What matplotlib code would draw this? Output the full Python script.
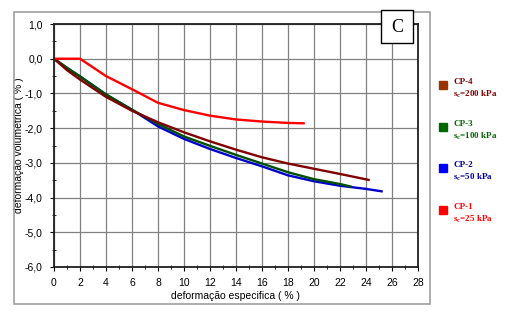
import matplotlib.pyplot as plt
from matplotlib.patches import Rectangle
from matplotlib.ticker import MultipleLocator, FuncFormatter

# curvas
cp1_x = [0, 2, 4, 6, 8, 10, 12, 14, 16, 18, 19.2]
cp1_y = [0, 0, -0.5, -0.88, -1.27, -1.48, -1.64, -1.75, -1.81, -1.85, -1.86]

cp2_x = [0, 1, 2, 4, 6, 8, 10, 12, 14, 16, 18, 20, 22, 24, 25.2]
cp2_y = [0, -0.27, -0.51, -1.03, -1.47, -1.95, -2.31, -2.6, -2.86, -3.1, -3.36, -3.53, -3.66, -3.75, -3.82]

cp3_x = [0, 1, 2, 4, 6, 8, 10, 12, 14, 16, 18, 20, 22, 22.8]
cp3_y = [0, -0.26, -0.51, -1.03, -1.47, -1.88, -2.24, -2.51, -2.77, -3.02, -3.27, -3.47, -3.61, -3.68]

cp4_x = [0, 1, 2, 4, 6, 8, 10, 12, 14, 16, 18, 20, 22, 24.2]
cp4_y = [0, -0.33, -0.6, -1.1, -1.5, -1.83, -2.12, -2.38, -2.62, -2.84, -3.02, -3.17, -3.32, -3.49]

legend_names = ['CP-4', 'CP-3', 'CP-2', 'CP-1']
legend_sc = ['200', '100', '50', '25']
legend_box = ['#993300', '#006600', '#0000FF', '#FF0000']
legend_txt = ['#800000', '#006600', '#000099', '#FF0000']

plt.rcParams['font.family'] = ['Liberation Sans', 'DejaVu Sans']

fig = plt.figure(figsize=(5.06, 3.27), dpi=100)

# moldura externa do grafico
fig.patches.append(Rectangle((14 / 506, 1 - 304 / 327), 416 / 506, 292 / 327,
                             transform=fig.transFigure, fill=False,
                             edgecolor='#a0a0a0', linewidth=1.2))

ax = fig.add_axes([54 / 506, 1 - 267 / 327, 364 / 506, 243 / 327])

ax.plot(cp2_x, cp2_y, color='#0000CC', linewidth=1.7)
ax.plot(cp3_x, cp3_y, color='#005000', linewidth=1.7)
ax.plot(cp4_x, cp4_y, color='#800000', linewidth=1.7)
ax.plot(cp1_x, cp1_y, color='#FF0000', linewidth=1.7)

ax.set_xlim(0, 28)
ax.set_ylim(-6, 1)
ax.xaxis.set_major_locator(MultipleLocator(2))
ax.xaxis.set_minor_locator(MultipleLocator(1))
ax.yaxis.set_major_locator(MultipleLocator(1))
ax.yaxis.set_minor_locator(MultipleLocator(0.5))
ax.yaxis.set_major_formatter(FuncFormatter(lambda v, p: f'{v:.1f}'.replace('.', ',')))

ax.grid(True, which='major', color='#808080', linewidth=0.9)
ax.set_axisbelow(True)
for s in ax.spines.values():
    s.set_linewidth(1.3)
    s.set_color('#202020')
ax.tick_params(which='major', direction='out', length=3, labelsize=7.5, pad=5)
ax.tick_params(which='minor', direction='inout', length=3)

ax.set_xlabel('deformação especifica ( % )', fontsize=7.5, labelpad=2)
ax.set_ylabel('deformação volumétrica ( % )', fontsize=7.5, labelpad=0.5)

# caixa com a letra C
fig.patches.append(Rectangle((381 / 506, 1 - 43 / 327), 32 / 506, 33 / 327,
                             transform=fig.transFigure, facecolor='white',
                             edgecolor='black', linewidth=1.0, zorder=5))
fig.text(397 / 506, 1 - 27 / 327, 'C', ha='center', va='center', fontsize=13,
         family='Liberation Serif', zorder=6)

# legenda manual
centers = [85, 127, 168, 210]
for name, sc, cb, ct, yc in zip(legend_names, legend_sc, legend_box, legend_txt, centers):
    fig.patches.append(Rectangle((439 / 506, 1 - (yc + 4) / 327), 8 / 506, 8 / 327,
                                 transform=fig.transFigure, color=cb))
    fig.text(453 / 506, 1 - (yc - 3) / 327, name, ha='left', va='center',
             fontsize=6.5, color=ct, family='Liberation Serif', weight='bold')
    fig.text(453 / 506, 1 - (yc + 9) / 327, r's$_\mathregular{c}$=' + sc + ' kPa',
             ha='left', va='center', fontsize=6.5, color=ct,
             family='Liberation Serif', weight='bold')

fig.savefig('out.png', dpi=100)
